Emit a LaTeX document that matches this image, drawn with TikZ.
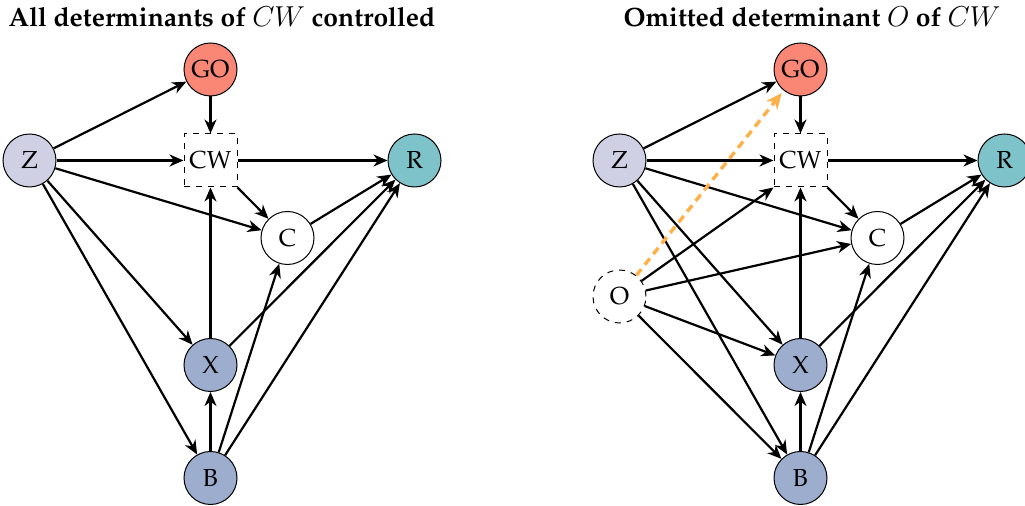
\documentclass[tikz,border=0pt]{standalone}
\usepackage[T1]{fontenc}
\usepackage{palatino}
\usetikzlibrary{arrows.meta}
\definecolor{goCol}{RGB}{250,135,117}
\definecolor{zCol}{RGB}{208,208,228}
\definecolor{rCol}{RGB}{125,195,201}
\definecolor{xbCol}{RGB}{156,173,205}
\definecolor{omitCol}{RGB}{255,176,72}
\tikzset{
  var/.style={circle, draw, line width=0.5pt, minimum size=26.5pt, inner sep=0pt, font=\fontsize{12.3}{14}\selectfont},
  treat/.style={rectangle, draw, dashed, line width=0.5pt, minimum width=26.5pt, minimum height=26.5pt, inner sep=0pt, font=\fontsize{12.3}{14}\selectfont},
  latent/.style={var, dashed, fill=white},
  edge/.style={-{Stealth[length=7pt,width=6pt,inset=2.2pt]}, line width=1.1pt},
  omitted/.style={-{Stealth[length=8pt,width=7pt,inset=2.4pt]}, line width=1.7pt, omitCol, dash pattern=on 4pt off 2.8pt},
  heading/.style={anchor=base, font=\fontsize{13.25}{16}\selectfont\bfseries},
}
\begin{document}
\begin{tikzpicture}[x=0.5pt,y=-0.5pt]
\useasboundingbox (0,0) rectangle (1025,506);

% ---- left panel: all determinants controlled ----
\node[heading] (tL) at (222,27) {All determinants of $CW$ controlled};
\node[var, fill=goCol] (GO) at (210.5,69.5) {GO};
\node[var, fill=zCol] (Z) at (29.5,160.5) {Z};
\node[treat] (CW) at (210.5,160.5) {CW};
\node[var, fill=rCol] (R) at (414.5,160.5) {R};
\node[var, fill=white] (C) at (287.5,238) {C};
\node[var, fill=xbCol] (X) at (210.5,365) {X};
\node[var, fill=xbCol] (B) at (210.5,478) {B};

\draw[edge] (Z) -- (GO);
\draw[edge] (Z) -- (CW);
\draw[edge] (Z) -- (C);
\draw[edge] (Z) -- (X);
\draw[edge] (Z) -- (B);
\draw[edge] (GO) -- (CW);
\draw[edge] (CW) -- (R);
\draw[edge] (CW.south east) -- (C);
\draw[edge] (C) -- (R);
\draw[edge] (X) -- (CW);
\draw[edge] (X) -- (R);
\draw[edge] (B) -- (X);
\draw[edge] (B) -- (C);
\draw[edge] (B) -- (R);

% ---- right panel: omitted determinant O ----
\begin{scope}[xshift=295pt]
\node[heading] (tR) at (222,27) {Omitted determinant $O$ of $CW$};
\node[var, fill=goCol] (GO2) at (210.5,69.5) {GO};
\node[var, fill=zCol] (Z2) at (29.5,160.5) {Z};
\node[treat] (CW2) at (210.5,160.5) {CW};
\node[var, fill=rCol] (R2) at (414.5,160.5) {R};
\node[var, fill=white] (C2) at (287.5,238) {C};
\node[var, fill=xbCol] (X2) at (210.5,365) {X};
\node[var, fill=xbCol] (B2) at (210.5,478) {B};
\node[latent] (O2) at (29.5,296.5) {O};

\draw[edge] (Z2) -- (GO2);
\draw[edge] (Z2) -- (CW2);
\draw[edge] (Z2) -- (C2);
\draw[edge] (Z2) -- (X2);
\draw[edge] (Z2) -- (B2);
\draw[edge] (GO2) -- (CW2);
\draw[edge] (CW2) -- (R2);
\draw[edge] (CW2.south east) -- (C2);
\draw[edge] (C2) -- (R2);
\draw[edge] (X2) -- (CW2);
\draw[edge] (X2) -- (R2);
\draw[edge] (B2) -- (X2);
\draw[edge] (B2) -- (C2);
\draw[edge] (B2) -- (R2);
\draw[edge] (O2) -- (CW2.south west);
\draw[edge] (O2) -- (C2);
\draw[edge] (O2) -- (X2);
\draw[edge] (O2) -- (B2);
\draw[omitted, shorten >=1.5pt] (O2) -- (GO2);
\end{scope}
\end{tikzpicture}
\end{document}
